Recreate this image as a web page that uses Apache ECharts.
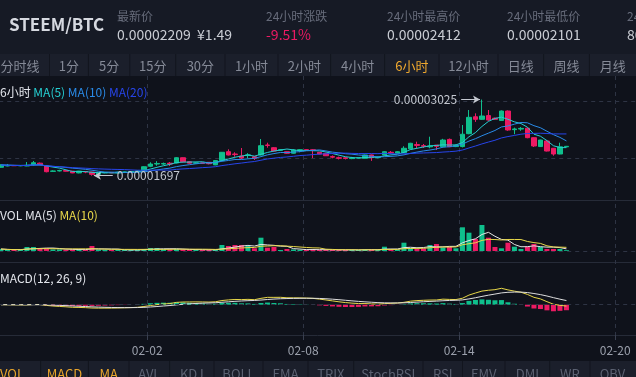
<!DOCTYPE html>
<html>
<head>
<meta charset="utf-8">
<script src="https://cdn.jsdelivr.net/npm/echarts@6/dist/echarts.min.js"></script>
<style>
html, body { margin: 0; padding: 0; background: #0f121b; }
#kline { width: 636px; height: 377px; }
</style>
</head>
<body>
<div id="kline"></div>
<script>
// STEEM/BTC 6小时K线，价格单位 1e-8 BTC
const openPrice = [
  1843, 1866, 1875, 1870, 1866, 1890, 1915, 1866, 1772, 1779,
  1785, 1775, 1745, 1770, 1760, 1720, 1745, 1752, 1748, 1758,
  1762, 1768, 1785, 1860, 1900, 1900, 1915, 1918, 2010, 1940,
  1915, 1920, 1930, 1885, 1960, 2115, 2075, 2040, 2050, 2028,
  2058, 2232, 2185, 2140, 2115, 2088, 2140, 2150, 2150, 2105,
  2085, 2030, 2010, 2008, 1995, 2005, 2000, 2058, 2012, 2058,
  2105, 2090, 2098, 2165, 2240, 2220, 2200, 2230, 2202, 2330,
  2205, 2205, 2430, 2725, 2680, 2745, 2700, 2660, 2825, 2500,
  2510, 2525, 2360, 2205, 2302, 2175, 2075, 2200
];
const closePrice = [
  1883, 1875, 1870, 1872, 1878, 1923, 1890, 1766, 1779, 1787,
  1775, 1745, 1775, 1760, 1720, 1745, 1752, 1748, 1758, 1762,
  1768, 1780, 1853, 1900, 1910, 1908, 1900, 2010, 1940, 1915,
  1920, 1912, 1905, 1960, 2105, 2058, 2065, 2005, 2060, 2000,
  2220, 2225, 2127, 2150, 2088, 2145, 2150, 2145, 2135, 2075,
  2045, 2020, 2000, 1998, 2005, 2010, 2058, 2012, 2018, 2115,
  2095, 2115, 2175, 2262, 2225, 2210, 2215, 2210, 2319, 2202,
  2225, 2420, 2715, 2680, 2738, 2668, 2680, 2825, 2494, 2512,
  2522, 2360, 2215, 2319, 2127, 2075, 2200, 2209
];
const lowPrice = [
  1835, 1860, 1865, 1862, 1862, 1870, 1880, 1755, 1765, 1770,
  1770, 1740, 1738, 1740, 1697, 1712, 1738, 1740, 1742, 1750,
  1755, 1760, 1780, 1845, 1870, 1885, 1866, 1910, 1930, 1905,
  1905, 1900, 1895, 1880, 1955, 2050, 2028, 1985, 2000, 1970,
  2050, 2185, 2120, 2130, 2080, 2080, 2105, 2135, 2005, 2070,
  2040, 2000, 1980, 1980, 1985, 1998, 1995, 1955, 2000, 2050,
  2075, 2085, 2090, 2160, 2175, 2180, 2175, 2145, 2190, 2195,
  2195, 2190, 2420, 2635, 2670, 2655, 2670, 2655, 2480, 2420,
  2480, 2350, 2197, 2200, 2120, 2045, 2070, 2195
];
const highPrice = [
  1895, 1901, 1885, 1880, 1935, 1953, 1925, 1880, 1790, 1800,
  1790, 1780, 1780, 1778, 1765, 1750, 1760, 1762, 1766, 1770,
  1775, 1790, 1860, 1930, 1950, 1925, 1935, 2020, 2015, 1945,
  1930, 1928, 1935, 1965, 2110, 2157, 2105, 2180, 2090, 2035,
  2337, 2272, 2195, 2160, 2120, 2160, 2160, 2158, 2162, 2110,
  2095, 2050, 2030, 2020, 2025, 2020, 2065, 2065, 2030, 2125,
  2127, 2125, 2210, 2270, 2290, 2250, 2377, 2232, 2340, 2345,
  2240, 2581, 2843, 2785, 3025, 2843, 2710, 2835, 2835, 2535,
  2545, 2535, 2365, 2325, 2320, 2180, 2272, 2215
];
const volume = [
  20, 12, 10, 12, 40, 40, 27, 27, 15, 15,
  12, 15, 15, 12, 50, 15, 12, 10, 10, 12,
  10, 12, 20, 30, 30, 18, 15, 20, 15, 12,
  10, 10, 12, 15, 60, 50, 60, 60, 50, 27,
  133, 33, 40, 10, 20, 15, 12, 12, 15, 12,
  12, 10, 10, 12, 12, 10, 15, 15, 12, 43,
  15, 15, 83, 30, 20, 25, 60, 70, 33, 43,
  27, 237, 183, 120, 260, 133, 40, 27, 83, 43,
  20, 43, 70, 40, 20, 20, 20, 8
];
const dateTicks = ["02-02", "02-08", "02-14", "02-20"];
const periodTabs = ["分时线", "1分", "5分", "15分", "30分", "1小时", "2小时", "4小时", "6小时", "12小时", "日线", "周线", "月线"];
const indicatorTabs = ["VOL", "MACD", "MA", "AVL", "KDJ", "BOLL", "EMA", "TRIX", "StochRSI", "RSI", "EMV", "DMI", "WR", "OBV"];
const ticker = {
  pair: "STEEM/BTC",
  last: "0.00002209", cny: "¥1.49",
  change: "-9.51%", high24: "0.00002412", low24: "0.00002101", vol24: "806215 STEEM"
};

const UP = "#0fbf8c";
const DOWN = "#ec1a63";
const FONT = "'Noto Sans CJK SC', 'Noto Sans', sans-serif";

// 每根K线占1个单位，第一根从1开始；02-02 00:00 落在 24
const xOf = (i) => i + 1.5;
const X_MAX = 99.2;

function ma(arr, n) {
  return arr.map((v, i) => {
    let s = 0, c = 0;
    for (let k = Math.max(0, i - n + 1); k <= i; k++) { s += arr[k]; c++; }
    return s / c;
  });
}
function ema(arr, n) {
  const k = 2 / (n + 1);
  const out = [];
  arr.forEach((v, i) => out.push(i === 0 ? v : out[i - 1] + k * (v - out[i - 1])));
  return out;
}

const candles = openPrice.map((o, i) => [xOf(i), o, closePrice[i], lowPrice[i], highPrice[i]]);
const isUp = (i) => closePrice[i] >= openPrice[i];
const pts = (arr) => arr.map((v, i) => [xOf(i), v]);

const ema12 = ema(closePrice, 12);
const ema26 = ema(closePrice, 26);
const dif = ema12.map((v, i) => v - ema26[i]);
const dea = ema(dif, 9);
const hist = dif.map((v, i) => v - dea[i]);
const macdTop = Math.max(...dif) * 41.7 / 16.4;
const macdBottom = -macdTop * 30.3 / 41.7;

const hiIdx = highPrice.indexOf(Math.max(...highPrice));
const loIdx = lowPrice.indexOf(Math.min(...lowPrice));
const fmtPrice = (v) => (v / 1e8).toFixed(8);

var chart = echarts.init(document.getElementById("kline"));

const gridBox = { left: -8.8, width: 644.8, outerBoundsMode: "none", containLabel: false };
const hiddenX = (gi) => ({ type: "value", gridIndex: gi, min: 0, max: X_MAX, show: false });

// 顶部行情栏与周期栏
let graphics = [
  { type: "rect", shape: { x: 0, y: 0, width: 636, height: 54 }, style: { fill: "#161a25" } },
  { type: "rect", shape: { x: 0, y: 54, width: 636, height: 22 }, style: { fill: "#1b1f2b" } },
  { type: "rect", shape: { x: 0, y: 361, width: 636, height: 16 }, style: { fill: "#1b1f2b" } },
  { type: "text", x: 9, y: 25, style: { text: ticker.pair, fill: "#d6d9e0", font: "bold 17px " + FONT, verticalAlign: "middle" } },
];
const headCols = [
  { x: 117, label: "最新价", value: ticker.last + "  " + ticker.cny, color: "#c9ccd3" },
  { x: 266, label: "24小时涨跌", value: ticker.change, color: DOWN },
  { x: 387, label: "24小时最高价", value: ticker.high24, color: "#c9ccd3" },
  { x: 507, label: "24小时最低价", value: ticker.low24, color: "#c9ccd3" },
  { x: 627, label: "24小时成交量", value: ticker.vol24, color: "#c9ccd3" },
];
headCols.forEach((c) => {
  graphics.push({ type: "text", x: c.x, y: 16, style: { text: c.label, fill: "#676c7b", font: "12px " + FONT, verticalAlign: "middle" } });
  graphics.push({ type: "text", x: c.x, y: 35, style: { text: c.value, fill: c.color, font: "14px " + FONT, verticalAlign: "middle" } });
});
const periodEdges = [-9.5, 49.5, 88.4, 129.8, 175.7, 225, 278, 330.6, 384.6, 439, 498, 543.6, 589.4, 636];
periodTabs.forEach((t, i) => {
  graphics.push({ type: "text", x: (periodEdges[i] + periodEdges[i + 1]) / 2, y: 66, style: { text: t, fill: t === "6小时" ? "#f0a92e" : "#858a97", font: "13px " + FONT, align: "center", verticalAlign: "middle" } });
  if (i > 0) graphics.push({ type: "line", shape: { x1: periodEdges[i], y1: 54, x2: periodEdges[i], y2: 76 }, style: { stroke: "#12151e", lineWidth: 1 } });
});
const indEdges = [-16, 40.6, 88.4, 129, 169.6, 214, 263, 308, 353.7, 423, 462.5, 505, 549.7, 590, 635];
indicatorTabs.forEach((t, i) => {
  const active = i < 3;
  graphics.push({ type: "text", x: i === 0 ? 12 : (indEdges[i] + indEdges[i + 1]) / 2, y: 374, style: { text: t, fill: active ? "#e9a52b" : "#5b6171", font: "13px " + FONT, align: "center", verticalAlign: "middle" } });
  if (i > 0) graphics.push({ type: "line", shape: { x1: indEdges[i], y1: 361, x2: indEdges[i], y2: 377 }, style: { stroke: "#12151e", lineWidth: 1 } });
});
// 分隔线
[200.5, 262.5].forEach((y) => graphics.push({ type: "line", shape: { x1: 0, y1: y, x2: 636, y2: y }, style: { stroke: "#262b38", lineWidth: 1 } }));
// 图例
const legendRows = [
  { y: 92, items: [["6小时", "#e3e6ec"], ["MA(5)", "#26cfd2"], ["MA(10)", "#2a8be8"], ["MA(20)", "#2745ea"]] },
  { y: 215, items: [["VOL MA(5)", "#e3e6ec"], ["MA(10)", "#e8d84a"]] },
  { y: 278, items: [["MACD(12, 26, 9)", "#e3e6ec"]] },
];
legendRows.forEach((row) => {
  graphics.push({
    type: "text", x: 0, y: row.y,
    style: {
      text: row.items.map((it, k) => "{c" + k + "|" + it[0] + "}").join(" "),
      font: "12px " + FONT, verticalAlign: "middle",
      rich: Object.fromEntries(row.items.map((it, k) => ["c" + k, { fill: it[1], font: "12px " + FONT }])),
    },
  });
});

let option = {
  backgroundColor: "#0f121b",
  animation: false,
  graphic: graphics,
  grid: [
    Object.assign({ top: 76, height: 259 }, gridBox),
    Object.assign({ top: 82, height: 133.6 }, gridBox),
    Object.assign({ top: 201, height: 50 }, gridBox),
    Object.assign({ top: 263, height: 72 }, gridBox),
  ],
  xAxis: [
    {
      type: "value", gridIndex: 0, min: 0, max: X_MAX, interval: 24,
      axisLine: { show: true, lineStyle: { color: "#262b38" } },
      axisTick: { show: true, length: 5, lineStyle: { color: "#3a4050" } },
      axisLabel: {
        color: "#9ba0ac", fontSize: 12, fontFamily: FONT, margin: 9,
        formatter: (v) => dateTicks[v / 24 - 1] || "",
      },
      splitLine: { show: true, showMinLine: false, showMaxLine: false, lineStyle: { color: "#2e3444", type: [4, 4] } },
    },
    hiddenX(1), hiddenX(2), hiddenX(3),
  ],
  yAxis: [
    { type: "value", gridIndex: 0, min: 0, max: 1, show: false },
    {
      type: "value", gridIndex: 1, min: 1000, max: 3331.6, interval: 1000,
      axisLine: { show: false }, axisTick: { show: false }, axisLabel: { show: false },
      splitLine: { show: true, showMinLine: false, showMaxLine: false, lineStyle: { color: "#2e3444", type: [4, 4] } },
    },
    {
      type: "value", gridIndex: 2, min: 0, max: 500, interval: 500,
      axisLine: { show: false }, axisTick: { show: false }, axisLabel: { show: false },
      splitLine: { show: true, showMaxLine: false, lineStyle: { color: "#2e3444", type: [4, 4] } },
    },
    { type: "value", gridIndex: 3, min: macdBottom, max: macdTop, show: false },
  ],
  series: [
    {
      type: "candlestick", xAxisIndex: 1, yAxisIndex: 1, data: candles, barWidth: 5,
      itemStyle: { color: UP, color0: DOWN, borderColor: UP, borderColor0: DOWN, borderColorDoji: UP, borderWidth: 1 },
      markLine: {
        silent: true, symbol: ["none", "arrow"], symbolSize: [6, 7],
        lineStyle: { color: "#c4c8d0", width: 1, type: "solid" },
        label: { show: true, position: "start", color: "#c4c8d0", fontSize: 12, fontFamily: FONT, distance: 4 },
        data: [
          [
            { coord: [xOf(hiIdx) - 3.2, highPrice[hiIdx]], label: { formatter: fmtPrice(highPrice[hiIdx]) } },
            { coord: [xOf(hiIdx) - 0.3, highPrice[hiIdx]] },
          ],
          [
            { coord: [xOf(loIdx) + 3.2, lowPrice[loIdx]], label: { formatter: fmtPrice(lowPrice[loIdx]) } },
            { coord: [xOf(loIdx) + 0.3, lowPrice[loIdx]] },
          ],
        ],
      },
    },
    { type: "line", xAxisIndex: 1, yAxisIndex: 1, data: pts(ma(closePrice, 5)), showSymbol: false, lineStyle: { color: "#26cfd2", width: 1 } },
    { type: "line", xAxisIndex: 1, yAxisIndex: 1, data: pts(ma(closePrice, 10)), showSymbol: false, lineStyle: { color: "#2a8be8", width: 1 } },
    { type: "line", xAxisIndex: 1, yAxisIndex: 1, data: pts(ma(closePrice, 20)), showSymbol: false, lineStyle: { color: "#2745ea", width: 1 } },
    {
      type: "bar", xAxisIndex: 2, yAxisIndex: 2, data: pts(volume), barWidth: 5,
      itemStyle: { color: (p) => (isUp(p.dataIndex) ? UP : DOWN) },
    },
    { type: "line", xAxisIndex: 2, yAxisIndex: 2, data: pts(ma(volume, 5)), showSymbol: false, lineStyle: { color: "#e6e6e6", width: 1 } },
    { type: "line", xAxisIndex: 2, yAxisIndex: 2, data: pts(ma(volume, 10)), showSymbol: false, lineStyle: { color: "#e8d84a", width: 1 } },
    {
      type: "bar", xAxisIndex: 3, yAxisIndex: 3, data: pts(hist), barWidth: 5,
      itemStyle: { color: (p) => (hist[p.dataIndex] >= 0 ? UP : DOWN) },
    },
    {
      type: "line", xAxisIndex: 3, yAxisIndex: 3, data: pts(dif), showSymbol: false, lineStyle: { color: "#e8d84a", width: 1 },
      markLine: {
        silent: true, symbol: "none", label: { show: false },
        lineStyle: { color: "#2e3444", type: [4, 4], width: 1 },
        data: [{ yAxis: 0 }],
      },
    },
    { type: "line", xAxisIndex: 3, yAxisIndex: 3, data: pts(dea), showSymbol: false, lineStyle: { color: "#dedede", width: 1 } },
  ],
};
chart.setOption(option);
</script>
</body>
</html>
